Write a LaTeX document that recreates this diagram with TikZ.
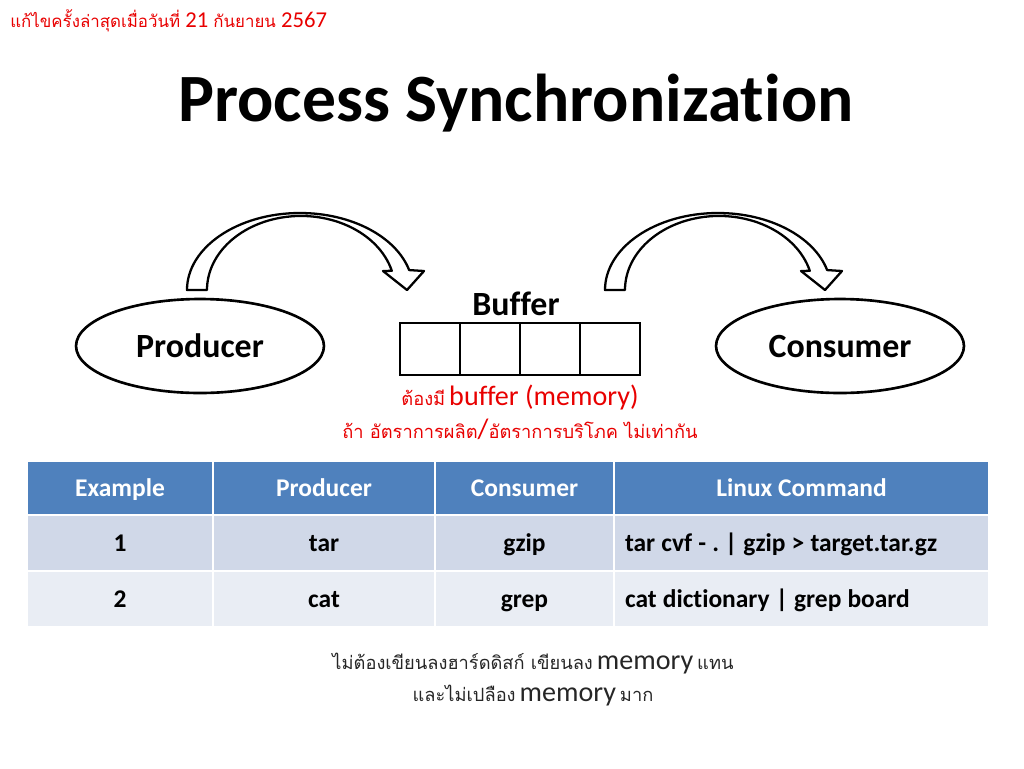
\documentclass[tikz,border=0pt]{standalone}
\usepackage{fontspec}
\setmainfont{Carlito}[Ligatures=NoCommon]
\newfontfamily\thaifont[Script=Thai]{Loma}
\newcommand{\thai}[1]{{\thaifont\fontsize{10.4}{13}\selectfont #1}}
\newcommand{\thaismall}[1]{{\thaifont\fontsize{9.6}{12}\selectfont #1}}
\frenchspacing
\usetikzlibrary{shapes.geometric}

\definecolor{hdrblue}{RGB}{79,129,189}
\definecolor{rowone}{RGB}{208,216,232}
\definecolor{rowtwo}{RGB}{233,237,244}
\definecolor{notered}{RGB}{232,0,0}

\tikzset{
  process/.style={draw, ellipse, line width=1.5pt, minimum width=4.96cm, minimum height=1.88cm, inner sep=0pt, font=\bfseries\fontsize{19.3}{22}\selectfont},
  slot/.style={draw, rectangle, line width=1.5pt, minimum width=1.2cm, minimum height=1.04cm, inner sep=0pt},
  arrowline/.style={draw, fill=white, line width=1.3pt, line join=round},
  tcell/.style={draw=white, line width=1.6pt, inner sep=0pt, text height=9.2pt, text depth=0pt, font=\bfseries\fontsize{14.5}{17}\selectfont},
  hcell/.style={tcell, fill=hdrblue, text=white, minimum height=1.08cm},
  rcellone/.style={tcell, fill=rowone, minimum height=1.12cm},
  rcelltwo/.style={tcell, fill=rowtwo, minimum height=1.12cm},
  cmdcell/.style={align=left, text width=7.06cm, inner xsep=0.22cm, execute at begin node={\spaceskip=0.24em\relax}},
  curvearrow/.pic={
    \draw[arrowline] (0,0) arc[start angle=180, end angle=345, x radius=113, y radius=77]
      -- (237,-19) -- (220,0) -- (196,-19) -- (204.8,-19.2)
      arc[start angle=345, end angle=180, x radius=94, y radius=74] -- cycle;
  }
}

\begin{document}
\begin{tikzpicture}[x=0.02cm, y=-0.02cm]
\useasboundingbox (0,0) rectangle (1024,768);

% Header line and title
\node[anchor=base west, inner sep=0pt, text=notered, font=\fontsize{12.9}{15}\selectfont] (edited) at (10,27)
  {\thaismall{แก้ไขครั้งล่าสุดเมื่อวันที่} 21 \thaismall{กันยายน} 2567};
\node[anchor=base, font=\bfseries\fontsize{38.5}{44}\selectfont] (title) at (516,121) {Process Synchronization};

% Producer, buffer, consumer
\node[process] (producer) at (200,346) {Producer};
\node[process] (consumer) at (840,346) {Consumer};

\node[anchor=base, font=\bfseries\fontsize{19.3}{22}\selectfont] (buflabel) at (516,315) {Buffer};
\node[slot] (slot1) at (430,349) {};
\node[slot] (slot2) at (490,349) {};
\node[slot] (slot3) at (550,349) {};
\node[slot] (slot4) at (610,349) {};

% Curved block arrows
\pic at (187,290) {curvearrow};
\pic at (605,290) {curvearrow};

% Notes under the buffer
\node[anchor=base, text=notered] (needbuf) at (520,405)
  {\thai{ต้องมี} {\fontsize{16}{19}\selectfont buffer (memory)}};
\node[anchor=base, text=notered] (ratenote) at (520,438)
  {\thai{ถ้า อัตราการผลิต}{\fontsize{16}{19}\selectfont/}\thai{อัตราการบริโภค ไม่เท่ากัน}};

% Table header
\node[hcell, minimum width=3.72cm] (hex) at (120,488) {Example};
\node[hcell, minimum width=4.44cm] (hprod) at (324,488) {Producer};
\node[hcell, minimum width=3.58cm] (hcons) at (524.5,488) {Consumer};
\node[hcell, minimum width=7.5cm] (hcmd) at (801.5,488) {Linux Command};

% Row 1
\node[rcellone, minimum width=3.72cm] (ex1) at (120,543) {1};
\node[rcellone, minimum width=4.44cm] (prod1) at (324,543) {tar};
\node[rcellone, minimum width=3.58cm] (cons1) at (524.5,543) {gzip};
\node[rcellone, cmdcell] (cmd1) at (801.5,543) {tar cvf - . | gzip > target.tar.gz};

% Row 2
\node[rcelltwo, minimum width=3.72cm] (ex2) at (120,599) {2};
\node[rcelltwo, minimum width=4.44cm] (prod2) at (324,599) {cat};
\node[rcelltwo, minimum width=3.58cm] (cons2) at (524.5,599) {grep};
\node[rcelltwo, cmdcell] (cmd2) at (801.5,599) {cat dictionary | grep board};

% Closing remarks
\node[anchor=base, text=black!85] (nodisk) at (533,669)
  {\thai{ไม่ต้องเขียนลงฮาร์ดดิสก์ เขียนลง} {\fontsize{16}{19}\selectfont memory} \thai{แทน}};
\node[anchor=base, text=black!85] (nowaste) at (533,701)
  {\thai{และไม่เปลือง} {\fontsize{16}{19}\selectfont memory} \thai{มาก}};

\end{tikzpicture}
\end{document}
